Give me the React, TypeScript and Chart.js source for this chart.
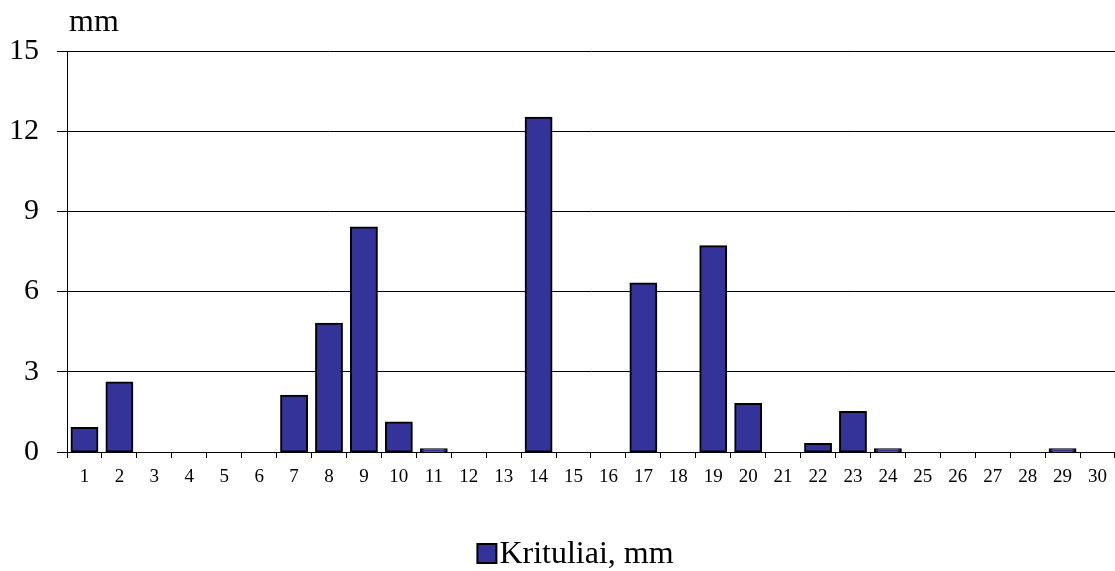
import React, { useEffect, useRef } from "react";
import { Chart, registerables } from "chart.js";

Chart.register(...registerables);

const days: string[] = Array.from({ length: 30 }, (_, i) => String(i + 1));
const precipitation: number[] = [
  0.9, 2.6, 0, 0, 0, 0, 2.1, 4.8, 8.4, 1.1,
  0.1, 0, 0, 12.5, 0, 0, 6.3, 0, 7.7, 1.8,
  0, 0.3, 1.5, 0.1, 0, 0, 0, 0, 0.1, 0,
];
const seriesLabel = "Krituliai, mm";
const unitLabel = "mm";
const yMax = 15;
const yStep = 3;

const FONT = "'Liberation Serif', 'Times New Roman', serif";
const BAR_COLOR = "#333399";

export default function App() {
  const ref = useRef<HTMLCanvasElement | null>(null);

  useEffect(() => {
    if (!ref.current) return;
    const textPlugin = {
      id: "extraText",
      afterDraw(chart: any) {
        const ctx = chart.ctx;
        ctx.save();
        // unit label above the y axis
        ctx.font = `32px ${FONT}`;
        ctx.fillStyle = "#000";
        ctx.textAlign = "left";
        ctx.textBaseline = "alphabetic";
        ctx.fillText(unitLabel, 69, 31);
        // legend
        ctx.font = `32px ${FONT}`;
        const tw = ctx.measureText(seriesLabel).width;
        const boxW = 19;
        const gap = 3;
        const total = boxW + gap + tw;
        const cx = chart.width / 2 + 18;
        const x0 = cx - total / 2;
        ctx.fillStyle = BAR_COLOR;
        ctx.fillRect(x0, 544, boxW, boxW);
        ctx.strokeStyle = "#000";
        ctx.lineWidth = 2;
        ctx.strokeRect(x0, 544, boxW, boxW);
        ctx.fillStyle = "#000";
        ctx.fillText(seriesLabel, x0 + boxW + gap, 563);
        ctx.restore();
      },
    };
    const chart = new Chart(ref.current, {
      type: "bar",
      data: {
        labels: days,
        datasets: [
          {
            label: seriesLabel,
            data: precipitation,
            backgroundColor: BAR_COLOR,
            borderColor: "#000000",
            borderWidth: 2,
            borderSkipped: false,
            inflateAmount: 1,
            barPercentage: 0.74,
            categoryPercentage: 1,
          },
        ],
      },
      options: {
        animation: false,
        responsive: false,
        maintainAspectRatio: false,
        layout: { padding: { top: 51, right: 0, left: 0, bottom: 61 } },
        plugins: {
          tooltip: { enabled: false },
          legend: { display: false },
        },
        scales: {
          x: {
            grid: {
              display: true,
              drawOnChartArea: false,
              drawTicks: true,
              tickLength: 6,
              color: "#000",
              lineWidth: 1,
              offset: true,
            },
            border: { display: true, color: "#000", width: 1 },
            ticks: {
              color: "#000",
              font: { family: FONT, size: 19 },
              padding: 8,
              maxRotation: 0,
              autoSkip: false,
            },
            afterFit(scale: any) {
              scale.height = 58;
            },
          },
          y: {
            min: 0,
            max: yMax,
            ticks: {
              stepSize: yStep,
              color: "#000",
              font: { family: FONT, size: 30 },
              padding: 18,
            },
            grid: {
              color: "#000",
              lineWidth: 1,
              drawTicks: true,
              tickLength: 10,
            },
            border: { display: true, color: "#000", width: 1 },
            afterFit(scale: any) {
              scale.width = 67;
            },
          },
        },
      },
      plugins: [textPlugin],
    });
    return () => chart.destroy();
  }, []);

  return (
    <div style={{ position: "absolute", left: 0, top: 0, width: 1115, height: 571, background: "#fff" }}>
      <canvas ref={ref} width={1115} height={571} style={{ width: 1115, height: 571 }} />
    </div>
  );
}
